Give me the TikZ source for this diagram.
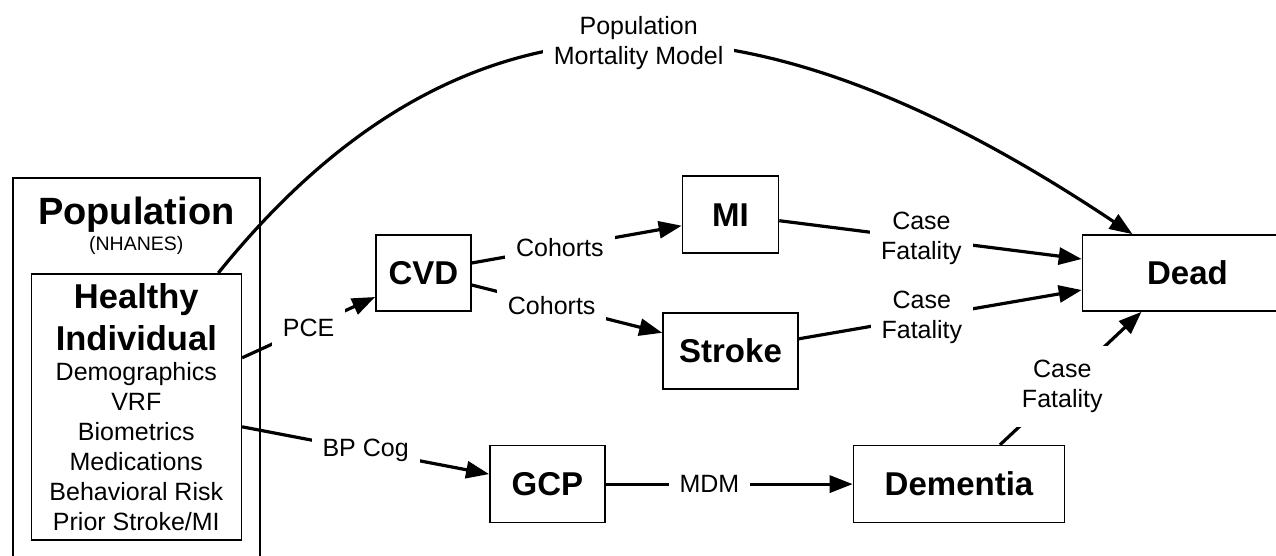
\documentclass[tikz,border=0pt]{standalone}
\usepackage{fontspec}
\setmainfont{Liberation Sans}
\usetikzlibrary{positioning,arrows.meta}
\tikzset{
  >={Triangle[length=23pt,width=17pt]},
  font        = \fontsize{25}{30}\selectfont,
  box/.style={
    draw,
    line width     = 1.6pt,
    inner sep      = 0pt,
    minimum height = 77pt,
    font           = \fontsize{33}{40}\selectfont\bfseries,
    align          = center},
  rate/.style={
    fill       = white,
    inner xsep = 11pt,
    inner ysep = 14pt,
    align      = center}
}

\begin{document}
\begin{tikzpicture}[line width=3.2pt]

\useasboundingbox (0,0) rectangle (1276pt,-555pt);
\clip (0,0) rectangle (1276pt,-555pt);

\node[box, anchor=north west, minimum width=247pt, minimum height=430pt]
      (pop) at (12pt,-177pt) {};
\node[below = 18pt of pop.north, inner sep=0pt, align=center,
      font=\fontsize{38}{30}\selectfont\bfseries] (poptitle)
      {Population\\[-4pt]{\fontsize{19.5}{24}\selectfont\mdseries (NHANES)}};

\node[box, below = 96pt of pop.north, minimum width=210pt, minimum height=266pt,
      font={\fontsize{25}{30}\selectfont\lineskiplimit=-20pt}] (healthy)
      {{\fontsize{34.5}{30}\selectfont\bfseries Healthy}\\[12pt]
       {\fontsize{34.5}{30}\selectfont\bfseries Individual}\\
       Demographics\\VRF\\Biometrics\\Medications\\Behavioral Risk\\Prior Stroke/MI};

\node[box, right = 133pt of healthy.north east, minimum width=95pt, minimum height=76pt]
      (cvd) {CVD};
\node[box, above right = 19pt and 210pt of cvd.east, minimum width=96pt]
      (mi) {MI};
\node[box, below = 58pt of mi, minimum width=135pt, minimum height=76pt]
      (stroke) {Stroke};
\node[box, right = 610pt of cvd, minimum width=210pt, minimum height=76pt]
      (dead) {Dead};

\node[box, below right = 38pt and 247pt of healthy.east, minimum width=115pt]
      (gcp) {GCP};
\node[box, right = 247pt of gcp, minimum width=211pt]
      (dementia) {Dementia};

\draw[->] ([yshift=49pt]healthy.east) -- ([yshift=-24pt]cvd.west)
  node[rate, midway] (pce) {PCE};
\draw[->] ([yshift=10pt]cvd.east) -- ([yshift=-11pt]mi.west)
  node[rate, pos=0.42] (cohmi) {Cohorts};
\draw[->] ([yshift=-12pt]cvd.east) -- ([yshift=18pt]stroke.west)
  node[rate, pos=0.42] (cohstroke) {Cohorts};

\draw[->] ([yshift=-6pt]mi.east) -- ([yshift=14pt]dead.west)
  node[rate, pos=0.47] (cfmi) {Case\\Fatality};
\draw[->] ([yshift=12pt]stroke.east) -- ([yshift=-17pt]dead.west)
  node[rate, pos=0.435] (cfstroke) {Case\\Fatality};

\draw[->] ([yshift=-20pt]healthy.east) -- ([yshift=10pt]gcp.west)
  node[rate, midway] (bpcog) {BP Cog};
\draw[->] (gcp) -- (dementia)
  node[rate, pos=0.42] (mdm) {MDM};
\draw[->] ([xshift=41pt]dementia.north) -- ([xshift=-46pt]dead.south)
  node[rate, pos=0.44] (cfdem) {Case\\Fatality};

\draw[->] ([xshift=82pt]healthy.north)
  .. controls +(260pt,322pt) and +(-358pt,239pt) .. ([xshift=-55pt]dead.north)
  node[rate, pos=0.5] (popmort) {Population\\Mortality Model};

\end{tikzpicture}
\end{document}
